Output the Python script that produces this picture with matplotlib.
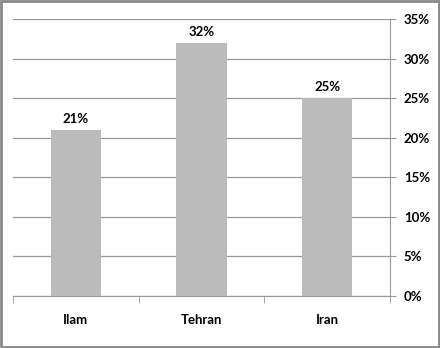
import matplotlib.pyplot as plt
from matplotlib.patches import Rectangle

categories = ['Ilam', 'Tehran', 'Iran']
values = [21, 32, 25]
yticks = [0, 5, 10, 15, 20, 25, 30, 35]

plt.rcParams['font.family'] = ['Lato', 'DejaVu Sans']

fig = plt.figure(figsize=(4.4, 3.48), dpi=100)
ax = fig.add_axes([13 / 440, 52 / 348, 377 / 440, 277 / 348])

x = list(range(len(categories)))
ax.bar(x, values, width=0.4, color='#bbbbbb', zorder=3)
for xi, v in zip(x, values):
    ax.text(xi, v + 0.6, f'{v}%', ha='center', va='bottom',
            fontsize=9.5, fontweight='bold')

ax.set_xlim(-0.5, 2.5)
ax.set_ylim(0, 35)
ax.yaxis.tick_right()
ax.set_yticks(yticks)
ax.set_yticklabels([f'{t}%' for t in yticks], fontsize=9.5, fontweight='bold')
ax.grid(axis='y', color='#999999', lw=0.9, zorder=0)
ax.tick_params(axis='y', length=4, color='#999999', pad=6)

ax.set_xticks(x)
ax.set_xticklabels(categories, fontsize=9.5, fontweight='bold')
ax.set_xticks([-0.5, 0.5, 1.5, 2.5], minor=True)
ax.tick_params(axis='x', which='major', length=0, pad=13)
ax.tick_params(axis='x', which='minor', length=5, color='#999999')

for s in ['top', 'left']:
    ax.spines[s].set_visible(False)
ax.spines['right'].set_color('#999999')
ax.spines['bottom'].set_color('#999999')

fig.patches.append(Rectangle((0.002, 0.003), 0.995, 0.993, transform=fig.transFigure,
                             fill=False, edgecolor='#888888', lw=2))

fig.savefig('out.png', dpi=100)
